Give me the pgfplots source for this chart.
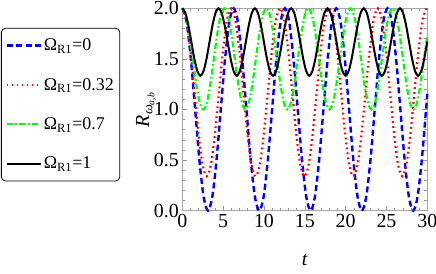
\documentclass[border=0pt]{standalone}
\usepackage{fontspec}
\setmainfont{Liberation Serif}
\usepackage{pgfplots}
\usepackage{pgfplotstable}
\pgfplotsset{compat=1.18}

% Omega_R1 = 0
\pgfplotstableread{
t R
0 2
0.524 1.866
1.047 1.5
1.571 1
2.094 0.5
2.618 0.134
3.142 0
3.665 0.134
4.189 0.5
4.712 1
5.236 1.5
5.760 1.866
6.283 2
6.807 1.866
7.330 1.5
7.854 1
8.378 0.5
8.901 0.134
9.425 0
9.948 0.134
10.472 0.5
10.996 1
11.519 1.5
12.043 1.866
12.566 2
13.090 1.866
13.614 1.5
14.137 1
14.661 0.5
15.184 0.134
15.708 0
16.232 0.134
16.755 0.5
17.279 1
17.802 1.5
18.326 1.866
18.850 2
19.373 1.866
19.897 1.5
20.420 1
20.944 0.5
21.468 0.134
21.991 0
22.515 0.134
23.038 0.5
23.562 1
24.086 1.5
24.609 1.866
25.133 2
25.656 1.866
26.180 1.5
26.704 1
27.227 0.5
27.751 0.134
28.274 0
28.798 0.134
29.322 0.5
29.845 1
30 1.155
}\tblA

% Omega_R1 = 0.32
\pgfplotstableread{
t R
0 2
0.499 1.889
0.997 1.585
1.496 1.17
1.995 0.755
2.494 0.451
2.992 0.34
3.491 0.451
3.990 0.755
4.488 1.17
4.987 1.585
5.486 1.889
5.984 2
6.483 1.889
6.982 1.585
7.481 1.17
7.979 0.755
8.478 0.451
8.977 0.34
9.475 0.451
9.974 0.755
10.473 1.17
10.971 1.585
11.470 1.889
11.969 2
12.468 1.889
12.966 1.585
13.465 1.17
13.964 0.755
14.462 0.451
14.961 0.34
15.460 0.451
15.958 0.755
16.457 1.17
16.956 1.585
17.455 1.889
17.953 2
18.452 1.889
18.951 1.585
19.449 1.17
19.948 0.755
20.447 0.451
20.945 0.34
21.444 0.451
21.943 0.755
22.442 1.17
22.940 1.585
23.439 1.889
23.938 2
24.436 1.889
24.935 1.585
25.434 1.17
25.932 0.755
26.431 0.451
26.930 0.34
27.429 0.451
27.927 0.755
28.426 1.17
28.925 1.585
29.423 1.889
29.922 2
30 1.998
}\tblB

% Omega_R1 = 0.7
\pgfplotstableread{
t R
0 2
0.429 1.933
0.858 1.75
1.287 1.5
1.716 1.25
2.145 1.067
2.574 1.0
3.003 1.067
3.431 1.25
3.860 1.5
4.289 1.75
4.718 1.933
5.147 2
5.576 1.933
6.005 1.75
6.434 1.5
6.863 1.25
7.292 1.067
7.721 1.0
8.150 1.067
8.579 1.25
9.008 1.5
9.436 1.75
9.865 1.933
10.294 2
10.723 1.933
11.152 1.75
11.581 1.5
12.010 1.25
12.439 1.067
12.868 1.0
13.297 1.067
13.726 1.25
14.155 1.5
14.584 1.75
15.013 1.933
15.441 2
15.870 1.933
16.299 1.75
16.728 1.5
17.157 1.25
17.586 1.067
18.015 1.0
18.444 1.067
18.873 1.25
19.302 1.5
19.731 1.75
20.160 1.933
20.589 2
21.018 1.933
21.447 1.75
21.875 1.5
22.304 1.25
22.733 1.067
23.162 1.0
23.591 1.067
24.020 1.25
24.449 1.5
24.878 1.75
25.307 1.933
25.736 2
26.165 1.933
26.594 1.75
27.023 1.5
27.452 1.25
27.880 1.067
28.309 1.0
28.738 1.067
29.167 1.25
29.596 1.5
30 1.736
}\tblC

% Omega_R1 = 1
\pgfplotstableread{
t R
0 2
0.370 1.955
0.740 1.833
1.111 1.667
1.481 1.5
1.851 1.378
2.221 1.333
2.592 1.378
2.962 1.5
3.332 1.667
3.702 1.833
4.073 1.955
4.443 2
4.813 1.955
5.183 1.833
5.554 1.667
5.924 1.5
6.294 1.378
6.664 1.333
7.035 1.378
7.405 1.5
7.775 1.667
8.145 1.833
8.516 1.955
8.886 2
9.256 1.955
9.626 1.833
9.996 1.667
10.367 1.5
10.737 1.378
11.107 1.333
11.477 1.378
11.848 1.5
12.218 1.667
12.588 1.833
12.958 1.955
13.329 2
13.699 1.955
14.069 1.833
14.439 1.667
14.810 1.5
15.180 1.378
15.550 1.333
15.920 1.378
16.291 1.5
16.661 1.667
17.031 1.833
17.401 1.955
17.772 2
18.142 1.955
18.512 1.833
18.882 1.667
19.252 1.5
19.623 1.378
19.993 1.333
20.363 1.378
20.733 1.5
21.104 1.667
21.474 1.833
21.844 1.955
22.214 2
22.585 1.955
22.955 1.833
23.325 1.667
23.695 1.5
24.066 1.378
24.436 1.333
24.806 1.378
25.176 1.5
25.547 1.667
25.917 1.833
26.287 1.955
26.657 2
27.028 1.955
27.398 1.833
27.768 1.667
28.138 1.5
28.508 1.378
28.879 1.333
29.249 1.378
29.619 1.5
30 1.67
}\tblD

\begin{document}
\begin{tikzpicture}[x=1bp,y=1bp]
\useasboundingbox (0,0) rectangle (436,273);
\begin{axis}[
  at={(182.3bp,62.3bp)}, anchor=south west,
  scale only axis, width=245bp, height=202.4bp,
  xmin=0, xmax=30, ymin=0, ymax=2,
  xtick={0,5,10,15,20,25,30},
  ytick={0,0.5,1,1.5,2},
  minor x tick num=4, minor y tick num=4,
  tick align=inside,
  major tick length=5bp, minor tick length=3bp,
  tick style={gray!85, line width=0.6bp},
  axis line style={gray!70, line width=1.2bp},
  clip=false,
  /pgf/number format/assume math mode=true,
  tick label style={font=\rmfamily\fontsize{20}{24}\selectfont},
  yticklabel style={/pgf/number format/.cd, fixed, fixed zerofill, precision=1},
  xlabel={\textit{t}},
  ylabel={\textit{R}\textsubscript{\textit{ω}\textsubscript{\textit{a,b}}}},
  label style={font=\rmfamily\fontsize{20}{24}\selectfont},
  xlabel style={at={(axis description cs:0.5,-0.245)}, anchor=center},
  ylabel style={at={(axis description cs:-0.148,0.5)}, anchor=center},
  legend style={at={(axis description cs:-0.740,0.903)}, anchor=north west,
    draw=black, line width=0.8bp, rounded corners=4bp,
    font=\rmfamily\fontsize{18}{22}\selectfont, row sep=22bp,
    inner xsep=4bp, inner ysep=8.5bp, cells={anchor=west}},
  legend cell align=left,
  legend image code/.code={\draw[#1, rounded corners=0pt] (0bp,0bp) -- (34bp,0bp);},
]
\addplot[blue, line width=2.4bp, dash pattern=on 6bp off 3.5bp, smooth] table[x=t,y=R] {\tblA};
\addlegendentry{Ω\textsubscript{R1}=0}
\addplot[red, line width=2.2bp, dash pattern=on 1.8bp off 3.2bp, smooth] table[x=t,y=R] {\tblB};
\addlegendentry{Ω\textsubscript{R1}=0.32}
\addplot[green, line width=2.2bp, dash pattern=on 6bp off 2.5bp on 1.8bp off 2.5bp, smooth] table[x=t,y=R] {\tblC};
\addlegendentry{Ω\textsubscript{R1}=0.7}
\addplot[black, line width=2bp, smooth] table[x=t,y=R] {\tblD};
\addlegendentry{Ω\textsubscript{R1}=1}
\end{axis}
\end{tikzpicture}
\end{document}
